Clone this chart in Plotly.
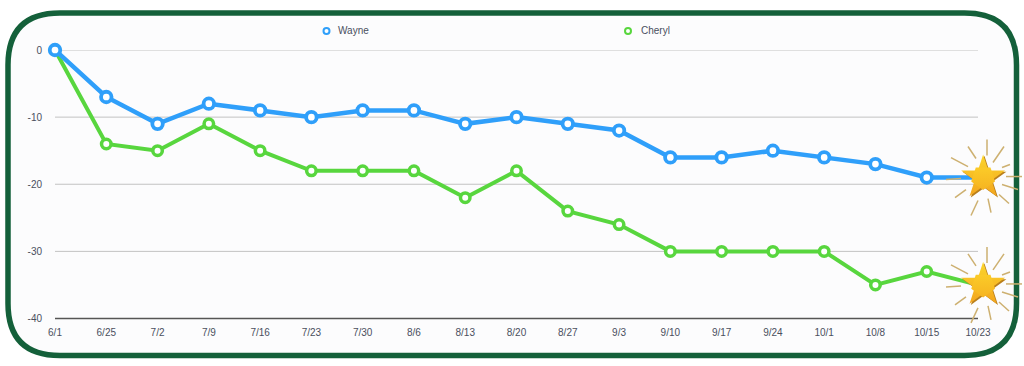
import plotly.graph_objects as go

dates = ["6/1","6/25","7/2","7/9","7/16","7/23","7/30","8/6","8/13","8/20","8/27","9/3","9/10","9/17","9/24","10/1","10/8","10/15","10/23"]
wayne = [0,-7,-11,-8,-9,-10,-9,-9,-11,-10,-11,-12,-16,-16,-15,-16,-17,-19,-19]
cheryl = [0,-14,-15,-11,-15,-18,-18,-18,-22,-18,-24,-26,-30,-30,-30,-30,-35,-33,-35]
y_ticks = [0,-10,-20,-30,-40]
series_names = ["Wayne", "Cheryl"]

W, H = 1024, 366
BLUE, GREEN = "#2f9ffa", "#58d63e"
TXT = "#4a4f5e"
idx = list(range(len(dates)))

X0, X1, Y0, Y1, YB = 55, 978, 50, 318.5, 336   # pixel frame of the plot
x_step = (X1 - X0) / (len(dates) - 1)
y_step = (Y1 - Y0) / 40

def px(x): return x / W
def py(y): return 1 - y / H

fig = go.Figure()
for vals, col, lw, ms, mlw in [(cheryl, GREEN, 4, 9.5, 3.5), (wayne, BLUE, 4.5, 10.5, 3.8)]:
    fig.add_trace(go.Scatter(x=idx, y=vals, mode="lines", line=dict(color=col, width=lw), showlegend=False, hoverinfo="skip", cliponaxis=False))
    fig.add_trace(go.Scatter(x=idx[:-1], y=vals[:-1], mode="markers", showlegend=False, cliponaxis=False,
                             marker=dict(color="white", size=ms, line=dict(color=col, width=mlw))))
# Final-value stars
for vals in (wayne, cheryl):
    sx = idx[-1] + 0.1
    fig.add_trace(go.Scatter(x=[sx + 0.025], y=[vals[-1] - 0.2], mode="markers", showlegend=False, cliponaxis=False, hoverinfo="skip",
                             marker=dict(symbol="star", size=33, color="#b97f1c", line=dict(width=0))))
    fig.add_trace(go.Scatter(x=[sx], y=[vals[-1]], mode="markers", showlegend=False, cliponaxis=False, hoverinfo="skip",
                             marker=dict(symbol="star", size=33, color="#fbd62c", line=dict(width=0),
                                         gradient=dict(type="vertical", color="#f3a51e"))))
    fig.add_trace(go.Scatter(x=[sx], y=[vals[-1]], mode="markers", showlegend=False, cliponaxis=False, hoverinfo="skip",
                             marker=dict(symbol="pentagon", angle=180, size=25, color="#fbcb28", line=dict(width=0),
                                         gradient=dict(type="vertical", color="#f6b421"))))

shapes = []
# Rounded frame
l, t, r, b, rad = 8, 13, 1016.5, 355.5, 52
frame = (f"M {px(l+rad):.5f} {py(t):.5f} L {px(r-rad):.5f} {py(t):.5f} Q {px(r):.5f} {py(t):.5f} {px(r):.5f} {py(t+rad):.5f} "
         f"L {px(r):.5f} {py(b-rad):.5f} Q {px(r):.5f} {py(b):.5f} {px(r-rad):.5f} {py(b):.5f} L {px(l+rad):.5f} {py(b):.5f} "
         f"Q {px(l):.5f} {py(b):.5f} {px(l):.5f} {py(b-rad):.5f} L {px(l):.5f} {py(t+rad):.5f} Q {px(l):.5f} {py(t):.5f} {px(l+rad):.5f} {py(t):.5f} Z")
shapes.append(dict(type="path", xref="paper", yref="paper", path=frame, layer="below",
                   fillcolor="#fcfcfd", line=dict(color="#14603a", width=5.5)))
# Gridlines and baseline, stopping at the last category
for v in y_ticks:
    shapes.append(dict(type="line", xref="x", yref="y", x0=idx[0], x1=idx[-1], y0=v, y1=v, layer="below",
                       line=dict(color="#555555" if v == y_ticks[-1] else "#c2c2c2", width=1.3 if v == y_ticks[-1] else 1)))
# Rays around each star, in pixels about the final point
rays = [(4,-38,4,-22),(-15,-31,-7,-19),(21,-31,10,-15),(-32,-20,-15,-11),(27,-13,19,-10),(23,-1,39,-1),
        (19,7,35,12),(-37,2,-22,1),(-17,12,-28,20),(16,17,26,26),(5,21,8,35),(-5,23,-12,38)]
for vals in (wayne, cheryl):
    for x0, y0, x1, y1 in rays:
        shapes.append(dict(type="line", xref="x", yref="y", xsizemode="pixel", ysizemode="pixel",
                           xanchor=idx[-1], yanchor=vals[-1], x0=x0 + 5, y0=-y0, x1=x1 + 5, y1=-y1,
                           line=dict(color="#cdb070", width=1.5)))
# Legend
annotations = []
for name, col, mx, tx in zip(series_names, [BLUE, GREEN], [326.5, 628], [336, 639]):
    shapes.append(dict(type="circle", xref="paper", yref="paper", x0=px(mx-3), x1=px(mx+3), y0=py(31+3), y1=py(31-3),
                       fillcolor="white", line=dict(color=col, width=2)))
    annotations.append(dict(text=name, xref="paper", yref="paper", x=px(tx), y=py(31), xanchor="left", yanchor="middle",
                            showarrow=False, font=dict(size=10, color=TXT)))

fig.update_layout(
    width=W, height=H, margin=dict(l=0, r=0, t=0, b=0), autosize=False,
    paper_bgcolor="white", plot_bgcolor="rgba(0,0,0,0)",
    font=dict(family="Liberation Sans, Arial, sans-serif", size=10, color=TXT),
    xaxis=dict(domain=[px(X0), 1], range=[0, (W - X0) / x_step], tickmode="array", tickvals=idx, ticktext=dates,
               anchor="free", position=py(Y1), automargin=False,
               showgrid=False, zeroline=False, showline=False, ticks="", ticklabelstandoff=6),
    yaxis=dict(domain=[py(YB), py(Y0)], range=[-(YB - Y0) / y_step, 0], tickmode="array", tickvals=y_ticks, ticktext=[str(v) for v in y_ticks],
               automargin=False, showgrid=False, zeroline=False, showline=False, ticks="", ticklabelstandoff=12),
    shapes=shapes, annotations=annotations, showlegend=False,
)
fig.write_html("out.html", config=dict(displayModeBar=False),
               post_script="document.body.style.margin='0';document.documentElement.style.overflow='hidden';")
